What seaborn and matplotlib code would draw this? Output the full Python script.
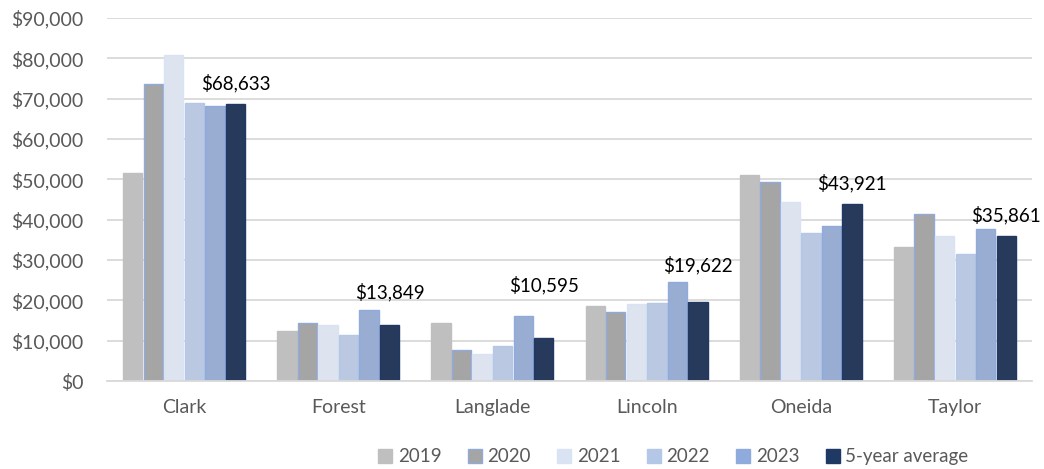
import matplotlib
matplotlib.use("Agg")
import matplotlib.pyplot as plt
from matplotlib.ticker import FuncFormatter, MultipleLocator
from matplotlib.patches import Patch
import seaborn as sns
import pandas as pd

counties = ["Clark", "Forest", "Langlade", "Lincoln", "Oneida", "Taylor"]
series = ["2019", "2020", "2021", "2022", "2023", "5-year average"]
v2019 = [51600, 12500, 14500, 18600, 51100, 33300]
v2020 = [73700, 14500, 7700, 17100, 49300, 41300]
v2021 = [80900, 13900, 6700, 19100, 44400, 36000]
v2022 = [68900, 11300, 8700, 19400, 36800, 31400]
v2023 = [68300, 17700, 16000, 24500, 38400, 37600]
avg5 = [68633, 13849, 10595, 19622, 43921, 35861]

colors = ["#BFBFBF", "#A5A5A5", "#DAE3F3", "#B4C7E7", "#8FAADC", "#203864"]
edges = ["#BFBFBF", "#8FAADC", "#DAE3F3", "#B4C7E7", "#8FAADC", "#203864"]

rows = []
for name, vals in zip(series, [v2019, v2020, v2021, v2022, v2023, avg5]):
    for c, v in zip(counties, vals):
        rows.append({"county": c, "series": name, "value": v})
df = pd.DataFrame(rows)

sns.set_theme(style="white")
plt.rcParams["font.family"] = ["Lato", "DejaVu Sans"]

fig = plt.figure(figsize=(10.44, 4.69), dpi=100)
ax = fig.add_axes([107 / 1044, (469 - 381) / 469, (1032 - 107) / 1044, (381 - 18) / 469])

sns.barplot(data=df, x="county", y="value", hue="series", order=counties,
            hue_order=series, palette=colors, width=0.8, gap=0.06,
            ax=ax, legend=False, errorbar=None)

for cont, ec in zip(ax.containers, edges):
    for bar in cont:
        bar.set_edgecolor(ec)
        bar.set_linewidth(1.0)

ax.set_ylim(0, 90000)
ax.yaxis.set_major_locator(MultipleLocator(10000))
ax.yaxis.set_major_formatter(FuncFormatter(lambda v, _: f"${v:,.0f}"))
ax.grid(axis="y", color="#D9D9D9", linewidth=1.3)
ax.set_axisbelow(True)
for s in ["top", "right", "left"]:
    ax.spines[s].set_visible(False)
ax.spines["bottom"].set_color("#D9D9D9")
ax.spines["bottom"].set_linewidth(1.3)
ax.set_xlabel("")
ax.set_ylabel("")
ax.tick_params(axis="both", length=0, labelsize=14, colors="#595959")
ax.tick_params(axis="x", pad=13)
ax.tick_params(axis="y", pad=17)

# Value labels above the 5-year average bars, lifted to clear neighbouring bars
lift_px = [21, 33, 53, 37, 21, 21]
avg_bars = ax.containers[-1]
for bar, val, lift in zip(avg_bars, avg5, lift_px):
    ax.annotate(f"${val:,.0f}", (bar.get_x() + bar.get_width() / 2, val),
                xytext=(0, lift * 0.72), textcoords="offset points",
                ha="center", va="center", fontsize=13.5, color="#000000")

handles = [Patch(facecolor=c, edgecolor=e, linewidth=1.0) for c, e in zip(colors, edges)]
fig.legend(handles, series, loc="center", bbox_to_anchor=(0.645, 0.026), ncol=6,
           frameon=False, fontsize=13.5, handlelength=0.75, handleheight=0.75,
           handletextpad=0.3, columnspacing=1.4, labelcolor="#595959")

fig.savefig("out.png", dpi=100)
